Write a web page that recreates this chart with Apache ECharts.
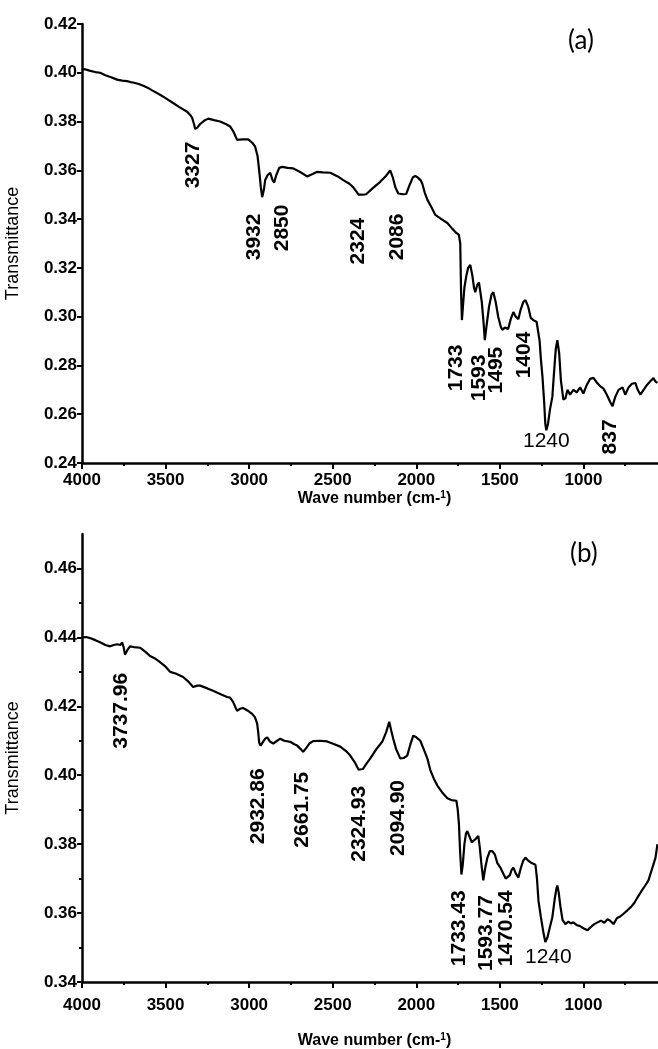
<!DOCTYPE html>
<html>
<head>
<meta charset="utf-8">
<script src="https://cdn.jsdelivr.net/npm/echarts@6/dist/echarts.min.js"></script>
<style>
html,body{margin:0;padding:0;background:#fff;}
#chart{width:658px;height:1049px;}
</style>
</head>
<body>
<div id="chart"></div>
<script>
// ---- Panel (a) spectrum: [wave number, transmittance]
var spectrumA = [
[4000,0.4015],[3980,0.4014],[3950,0.4008],[3920,0.4003],[3892,0.4000],[3860,0.3990],[3830,0.3983],[3790,0.3972],[3760,0.3968],[3731,0.3966],[3710,0.3962],[3695,0.3960],[3660,0.3954],[3630,0.3946],[3611,0.3940],[3580,0.3928],[3533,0.3910],[3500,0.3896],[3455,0.3876],[3420,0.3860],[3371,0.3840],[3350,0.3825],[3341,0.3815],[3330,0.3790],[3323,0.3770],[3310,0.3775],[3293,0.3790],[3270,0.3803],[3245,0.3812],[3210,0.3806],[3174,0.3800],[3140,0.3790],[3114,0.3780],[3095,0.3760],[3072,0.3725],[3040,0.3727],[3006,0.3727],[2980,0.3712],[2964,0.3697],[2950,0.3660],[2940,0.3600],[2930,0.3530],[2922,0.3490],[2912,0.3520],[2904,0.3560],[2890,0.3580],[2874,0.3590],[2860,0.3560],[2850,0.3550],[2838,0.3580],[2820,0.3610],[2802,0.3614],[2770,0.3610],[2737,0.3608],[2700,0.3595],[2653,0.3575],[2620,0.3585],[2593,0.3594],[2560,0.3592],[2515,0.3590],[2470,0.3575],[2437,0.3560],[2400,0.3545],[2377,0.3530],[2345,0.3500],[2320,0.3500],[2300,0.3502],[2260,0.3527],[2216,0.3553],[2180,0.3578],[2156,0.3600],[2140,0.3570],[2125,0.3530],[2108,0.3505],[2080,0.3502],[2060,0.3503],[2040,0.3540],[2020,0.3572],[2006,0.3577],[1990,0.3570],[1975,0.3560],[1964,0.3545],[1950,0.3510],[1934,0.3480],[1910,0.3450],[1886,0.3417],[1850,0.3400],[1814,0.3384],[1790,0.3365],[1766,0.3347],[1745,0.3335],[1737,0.3300],[1732,0.3100],[1727,0.2986],[1720,0.3050],[1712,0.3120],[1700,0.3170],[1690,0.3200],[1677,0.3212],[1665,0.3170],[1655,0.3120],[1647,0.3100],[1635,0.3130],[1625,0.3140],[1617,0.3135],[1608,0.3060],[1598,0.2980],[1590,0.2904],[1580,0.2960],[1565,0.3040],[1550,0.3090],[1539,0.3100],[1525,0.3060],[1510,0.3000],[1495,0.2960],[1485,0.2946],[1470,0.2955],[1450,0.2950],[1435,0.2990],[1419,0.3019],[1405,0.3000],[1389,0.2990],[1375,0.3030],[1360,0.3060],[1347,0.3068],[1330,0.3040],[1315,0.2995],[1299,0.2986],[1280,0.2978],[1269,0.2974],[1262,0.2900],[1255,0.2830],[1245,0.2753],[1235,0.2650],[1228,0.2560],[1222,0.2534],[1212,0.2560],[1200,0.2620],[1186,0.2671],[1175,0.2780],[1165,0.2870],[1156,0.2904],[1145,0.2850],[1135,0.2740],[1120,0.2660],[1108,0.2665],[1095,0.2700],[1080,0.2680],[1060,0.2700],[1040,0.2690],[1020,0.2710],[1000,0.2685],[980,0.2720],[960,0.2745],[940,0.2749],[920,0.2730],[900,0.2715],[880,0.2705],[860,0.2680],[840,0.2650],[826,0.2633],[810,0.2670],[790,0.2700],[766,0.2710],[750,0.2680],[730,0.2710],[710,0.2725],[689,0.2728],[675,0.2700],[659,0.2680],[640,0.2700],[620,0.2720],[600,0.2735],[581,0.2748],[570,0.2735],[557,0.2728]
];

// ---- Panel (b) spectrum: [wave number, transmittance]
var spectrumB = [
[4000,0.4400],[3975,0.4401],[3952,0.4398],[3920,0.4392],[3892,0.4386],[3860,0.4378],[3832,0.4374],[3810,0.4378],[3790,0.4380],[3770,0.4378],[3760,0.4386],[3750,0.4370],[3743,0.4350],[3730,0.4362],[3713,0.4374],[3690,0.4372],[3653,0.4370],[3620,0.4358],[3593,0.4346],[3560,0.4338],[3533,0.4328],[3500,0.4315],[3473,0.4300],[3440,0.4295],[3395,0.4285],[3360,0.4270],[3335,0.4256],[3310,0.4260],[3293,0.4260],[3250,0.4252],[3216,0.4245],[3170,0.4235],[3132,0.4227],[3114,0.4225],[3096,0.4213],[3080,0.4195],[3072,0.4187],[3054,0.4193],[3036,0.4195],[3010,0.4188],[2982,0.4178],[2965,0.4168],[2952,0.4150],[2946,0.4126],[2940,0.4095],[2932,0.4086],[2922,0.4088],[2904,0.4106],[2892,0.4110],[2874,0.4097],[2856,0.4092],[2832,0.4100],[2814,0.4106],[2790,0.4100],[2754,0.4097],[2730,0.4090],[2713,0.4086],[2690,0.4075],[2677,0.4068],[2660,0.4078],[2640,0.4092],[2617,0.4099],[2580,0.4100],[2533,0.4098],[2490,0.4090],[2455,0.4083],[2420,0.4070],[2395,0.4057],[2365,0.4035],[2345,0.4016],[2335,0.4014],[2320,0.4018],[2300,0.4032],[2275,0.4049],[2240,0.4075],[2204,0.4097],[2180,0.4125],[2162,0.4155],[2150,0.4130],[2138,0.4106],[2120,0.4075],[2096,0.4049],[2075,0.4050],[2054,0.4057],[2035,0.4090],[2018,0.4115],[2000,0.4110],[1990,0.4108],[1976,0.4100],[1955,0.4075],[1934,0.4049],[1916,0.4015],[1895,0.3990],[1874,0.3970],[1845,0.3950],[1814,0.3933],[1790,0.3928],[1760,0.3926],[1752,0.3900],[1745,0.3860],[1738,0.3780],[1730,0.3712],[1722,0.3740],[1712,0.3800],[1703,0.3830],[1695,0.3838],[1680,0.3820],[1668,0.3805],[1659,0.3800],[1645,0.3815],[1629,0.3824],[1620,0.3790],[1610,0.3740],[1599,0.3695],[1588,0.3730],[1575,0.3760],[1560,0.3780],[1545,0.3780],[1530,0.3770],[1515,0.3745],[1497,0.3732],[1480,0.3715],[1465,0.3700],[1455,0.3695],[1440,0.3710],[1430,0.3725],[1419,0.3732],[1405,0.3715],[1389,0.3703],[1375,0.3730],[1360,0.3752],[1347,0.3761],[1330,0.3752],[1310,0.3745],[1287,0.3740],[1278,0.3700],[1269,0.3636],[1255,0.3590],[1240,0.3545],[1228,0.3516],[1215,0.3530],[1200,0.3560],[1186,0.3588],[1172,0.3640],[1162,0.3670],[1156,0.3680],[1148,0.3660],[1138,0.3620],[1125,0.3580],[1108,0.3568],[1090,0.3575],[1075,0.3570],[1060,0.3573],[1040,0.3565],[1020,0.3562],[1000,0.3556],[976,0.3550],[955,0.3560],[935,0.3568],[916,0.3573],[895,0.3578],[875,0.3572],[856,0.3582],[840,0.3578],[820,0.3568],[800,0.3585],[780,0.3590],[760,0.3598],[737,0.3608],[715,0.3618],[695,0.3630],[677,0.3645],[655,0.3662],[630,0.3680],[611,0.3695],[595,0.3720],[582,0.3740],[569,0.3760],[557,0.3800]
];

// ---- Peak annotations: [wave number, transmittance, text]
var peaksA = [[3335,0.3622,'3327'],[2970,0.3327,'3932'],[2800,0.3364,'2850'],[2345,0.3310,'2324'],[2114,0.3327,'2086'],[1760,0.2790,'1733'],[1622,0.2749,'1593'],[1521,0.2781,'1495'],[1353,0.2843,'1404'],[838,0.2507,'837']];
var peaksAFlat = [[1222,0.2490,'1240']];
var peaksB = [[3767,0.4187,'3737.96'],[2946,0.3910,'2932.86'],[2683,0.3900,'2661.75'],[2341,0.3859,'2324.93'],[2108,0.3876,'2094.90'],[1742,0.3556,'1733.43'],[1584,0.3542,'1593.77'],[1464,0.3556,'1470.54']];
var peaksBFlat = [[1210,0.3473,'1240']];

// ---- Tick values
var yTicksA = [0.24,0.26,0.28,0.30,0.32,0.34,0.36,0.38,0.40,0.42];
var yTicksB = [0.34,0.36,0.38,0.40,0.42,0.44,0.46];

var panelLabels = ['(a)','(b)'];
var xTitle = 'Wave number (cm-{sup|1})';
var yTitle = 'Transmittance';

var FONT = 'Liberation Sans, Arial, sans-serif';

function xAxisCfg(gridIndex, labelMargin, nameGap){
  return {
    gridIndex: gridIndex, type:'value', inverse:true, min:500, max:4000, interval:500,
    axisLine:{show:true, onZero:false, lineStyle:{color:'#000', width:2.5}},
    axisTick:{show:true, length:6, lineStyle:{color:'#000', width:2}},
    minorTick:{show:true, splitNumber:2, length:3, lineStyle:{color:'#000', width:2}},
    splitLine:{show:false},
    axisLabel:{color:'#000', fontFamily:FONT, fontSize:17, fontWeight:'bold', margin:labelMargin,
      formatter:function(v){ return v===500 ? '' : String(v); }},
    name:xTitle, nameLocation:'middle', nameGap:nameGap,
    nameTextStyle:{color:'#000', fontFamily:FONT, fontSize:16, fontWeight:'bold',
      rich:{sup:{fontFamily:FONT, fontSize:10, fontWeight:'bold', color:'#000', verticalAlign:'top', padding:[0,0,8,0]}}}
  };
}
function yAxisCfg(gridIndex, min, max, minor, ticks){
  return {
    gridIndex: gridIndex, type:'value', min:min, max:max, interval:0.02,
    axisLine:{show:true, onZero:false, lineStyle:{color:'#000', width:2.5}},
    axisTick:{show:true, length:5, customValues:ticks, lineStyle:{color:'#000', width:2}},
    minorTick:{show:minor, splitNumber:2, length:3, lineStyle:{color:'#000', width:2}},
    splitLine:{show:false},
    axisLabel:{color:'#000', fontFamily:FONT, fontSize:17, fontWeight:'bold', margin:5, customValues:ticks,
      formatter:function(v){ return v.toFixed(2); }},
    name:yTitle, nameLocation:'middle', nameGap:60, nameRotate:90,
    nameTextStyle:{color:'#000', fontFamily:FONT, fontSize:18}
  };
}
function lineSeries(idx, data){
  return {type:'line', xAxisIndex:idx, yAxisIndex:idx, data:data, showSymbol:false, symbol:'none',
    lineStyle:{color:'#000', width:2.2}, silent:true, z:3};
}
function labelSeries(idx, data, rotate, weight){
  return {type:'scatter', xAxisIndex:idx, yAxisIndex:idx, data:data, symbolSize:0, silent:true, z:5,
    itemStyle:{opacity:1, color:'#000'},
    label:{show:true, position:'inside', rotate:rotate, color:'#000', opacity:1, textBorderWidth:0, fontFamily:FONT, fontSize:21, fontWeight:weight,
      formatter:function(p){ return p.value[2]; }}};
}

var chart = echarts.init(document.getElementById('chart'), null, {renderer:'canvas'});
chart.setOption({
  animation:false,
  backgroundColor:'#fff',
  title:[
    {text:panelLabels[0], left:563, top:23, textStyle:{fontFamily:'Lato, Open Sans, sans-serif', fontSize:26, fontWeight:'normal', color:'#000'}},
    {text:panelLabels[1], left:565, top:536, textStyle:{fontFamily:'Lato, Open Sans, sans-serif', fontSize:26, fontWeight:'normal', color:'#000'}}
  ],
  grid:[
    {left:82, top:24, width:585, height:439, outerBoundsMode:'none', containLabel:false},
    {left:82, top:534, width:585, height:448, outerBoundsMode:'none', containLabel:false}
  ],
  xAxis:[ xAxisCfg(0, 9, 21), xAxisCfg(1, 15, 50) ],
  yAxis:[ yAxisCfg(0, 0.24, 0.42, false, yTicksA), yAxisCfg(1, 0.34, 0.47, true, yTicksB) ],
  series:[
    lineSeries(0, spectrumA),
    lineSeries(1, spectrumB),
    labelSeries(0, peaksA, 90, 'bold'),
    labelSeries(0, peaksAFlat, 0, 'normal'),
    labelSeries(1, peaksB, 90, 'bold'),
    labelSeries(1, peaksBFlat, 0, 'normal')
  ]
});
</script>
</body>
</html>
